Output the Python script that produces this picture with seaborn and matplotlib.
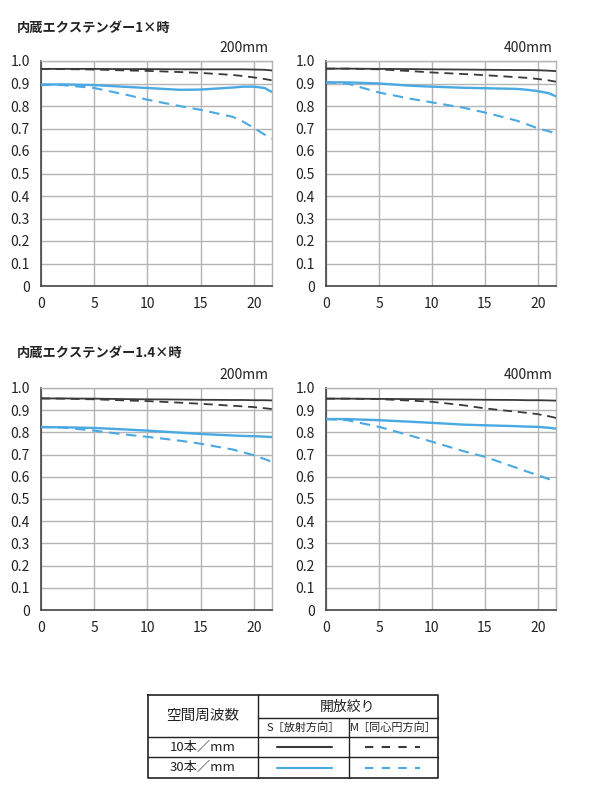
import numpy as np
import pandas as pd
import matplotlib
matplotlib.use("Agg")
import matplotlib.pyplot as plt
import seaborn as sns

# ---------------------------------------------------------------
# Veri (grafikten okunan MTF değerleri)
# ---------------------------------------------------------------
x_pts = [0, 2, 5, 8, 10, 13, 15, 18, 19, 20, 21, 21.7]

# 1x, 200mm
p1_10s = [0.965, 0.965, 0.965, 0.964, 0.964, 0.963, 0.963, 0.963, 0.963, 0.962, 0.961, 0.958]
p1_10m = [0.965, 0.964, 0.962, 0.958, 0.956, 0.951, 0.947, 0.938, 0.933, 0.927, 0.920, 0.914]
p1_30s = [0.895, 0.896, 0.893, 0.885, 0.880, 0.872, 0.873, 0.882, 0.886, 0.886, 0.880, 0.862]
p1_30m = [0.895, 0.893, 0.880, 0.850, 0.828, 0.800, 0.783, 0.752, 0.730, 0.702, 0.673, 0.655]

# 1x, 400mm
p2_10s = [0.966, 0.966, 0.965, 0.964, 0.963, 0.962, 0.961, 0.960, 0.960, 0.959, 0.957, 0.955]
p2_10m = [0.966, 0.966, 0.963, 0.955, 0.949, 0.942, 0.937, 0.928, 0.925, 0.920, 0.914, 0.908]
p2_30s = [0.905, 0.905, 0.900, 0.890, 0.886, 0.881, 0.879, 0.876, 0.872, 0.866, 0.857, 0.843]
p2_30m = [0.905, 0.900, 0.860, 0.832, 0.816, 0.792, 0.771, 0.735, 0.718, 0.700, 0.688, 0.678]

# 1.4x, 200mm
p3_10s = [0.953, 0.953, 0.952, 0.950, 0.949, 0.948, 0.947, 0.946, 0.946, 0.945, 0.945, 0.944]
p3_10m = [0.953, 0.952, 0.949, 0.944, 0.941, 0.934, 0.929, 0.920, 0.917, 0.914, 0.909, 0.905]
p3_30s = [0.824, 0.823, 0.820, 0.813, 0.808, 0.799, 0.793, 0.786, 0.784, 0.783, 0.781, 0.779]
p3_30m = [0.824, 0.822, 0.808, 0.790, 0.780, 0.763, 0.749, 0.723, 0.710, 0.697, 0.680, 0.667]

# 1.4x, 400mm
p4_10s = [0.952, 0.952, 0.951, 0.950, 0.949, 0.948, 0.947, 0.946, 0.945, 0.945, 0.944, 0.943]
p4_10m = [0.952, 0.952, 0.950, 0.943, 0.938, 0.922, 0.908, 0.893, 0.888, 0.882, 0.873, 0.865]
p4_30s = [0.860, 0.860, 0.855, 0.848, 0.843, 0.835, 0.832, 0.828, 0.826, 0.825, 0.821, 0.817]
p4_30m = [0.860, 0.855, 0.825, 0.785, 0.758, 0.715, 0.690, 0.640, 0.623, 0.607, 0.590, 0.577]

panel_titles = ["200mm", "400mm", "200mm", "400mm"]
section_titles = ["内蔵エクステンダー1×時", "内蔵エクステンダー1.4×時"]
series_names = ["10S", "10M", "30S", "30M"]
panel_data = [
    [p1_10s, p1_10m, p1_30s, p1_30m],
    [p2_10s, p2_10m, p2_30s, p2_30m],
    [p3_10s, p3_10m, p3_30s, p3_30m],
    [p4_10s, p4_10m, p4_30s, p4_30m],
]
y_ticks = [0, 0.1, 0.2, 0.3, 0.4, 0.5, 0.6, 0.7, 0.8, 0.9, 1.0]
y_tick_labels = ["0", "0.1", "0.2", "0.3", "0.4", "0.5", "0.6", "0.7", "0.8", "0.9", "1.0"]
x_ticks = [0, 5, 10, 15, 20]

# ---------------------------------------------------------------
# Stil
# ---------------------------------------------------------------
sns.set_style("white")
plt.rcParams['font.family'] = ['Noto Sans CJK JP', 'DejaVu Sans']

BLACK = "#3a3a3a"
BLUE = "#4aa8e2"
GRID = "#b4b4b4"
palette = {"10S": BLACK, "10M": BLACK, "30S": BLUE, "30M": BLUE}
widths = {"10S": 1.3, "10M": 1.3, "30S": 1.7, "30M": 1.5}
DASH = (5, 3.2)

W, H = 590, 800
fig = plt.figure(figsize=(W / 100, H / 100), dpi=100)


def px_axes(left, top, right, bottom):
    return fig.add_axes([left / W, 1 - bottom / H, (right - left) / W, (bottom - top) / H])


rects = [(41, 61, 272, 286), (326, 61, 556, 286),
         (41, 388, 272, 610), (326, 388, 556, 610)]

for i, (rect, data) in enumerate(zip(rects, panel_data)):
    ax = px_axes(*rect)
    rows = []
    for name, vals in zip(series_names, data):
        for xv, yv in zip(x_pts, vals):
            rows.append({"x": xv, "y": yv, "s": name})
    df = pd.DataFrame(rows)
    for name in series_names:
        sub = df[df["s"] == name]
        sns.lineplot(data=sub, x="x", y="y", ax=ax, color=palette[name],
                     lw=widths[name], legend=False, zorder=3)
        if name.endswith("M"):
            ax.lines[-1].set_dashes(DASH)
    ax.set_xlim(0, 21.7)
    ax.set_ylim(0, 1.0)
    ax.set_xticks(x_ticks)
    ax.set_yticks(y_ticks)
    ax.set_yticklabels(y_tick_labels)
    ax.set_xlabel("")
    ax.set_ylabel("")
    ax.grid(True, color=GRID, lw=1.0, zorder=0)
    ax.tick_params(length=0, labelsize=10, pad=8, colors="#222222")
    for side in ["top", "right"]:
        ax.spines[side].set_color(GRID)
        ax.spines[side].set_linewidth(1.0)
    for side in ["left", "bottom"]:
        ax.spines[side].set_color("#444444")
        ax.spines[side].set_linewidth(1.2)
    ax.text(0.985, 1.025, panel_titles[i], transform=ax.transAxes,
            ha="right", va="bottom", fontsize=10, color="#222222")

fig.text(17 / W, 1 - 28 / H, section_titles[0], ha="left", va="center",
         fontsize=9.5, fontweight="bold", color="#222222")
fig.text(17 / W, 1 - 353 / H, section_titles[1], ha="left", va="center",
         fontsize=9.5, fontweight="bold", color="#222222")

# ---------------------------------------------------------------
# Açıklama tablosu
# ---------------------------------------------------------------
tx = fig.add_axes([0, 0, 1, 1])
tx.set_xlim(0, W)
tx.set_ylim(H, 0)
tx.axis("off")

L, R, T, B = 148, 438, 695, 778
c1, c2 = 258, 349
r1, r2, r3 = 718, 737, 757
lc = "#222222"
tx.plot([L, R, R, L, L], [T, T, B, B, T], color=lc, lw=1.2)
tx.plot([c1, c1], [T, B], color=lc, lw=1.0)
tx.plot([c2, c2], [r1, B], color=lc, lw=1.0)
tx.plot([c1, R], [r1, r1], color=lc, lw=1.0)
tx.plot([L, R], [r2, r2], color=lc, lw=1.0)
tx.plot([L, R], [r3, r3], color=lc, lw=1.0)

tx.text((L + c1) / 2, (T + r2) / 2, "空間周波数", ha="center", va="center", fontsize=10.5, color=lc)
tx.text((c1 + R) / 2, (T + r1) / 2, "開放絞り", ha="center", va="center", fontsize=10, color=lc)
tx.text((c1 + c2) / 2, (r1 + r2) / 2, "S［放射方向］", ha="center", va="center", fontsize=8, color=lc)
tx.text((c2 + R) / 2, (r1 + r2) / 2, "M［同心円方向］", ha="center", va="center", fontsize=8, color=lc)
tx.text((L + c1) / 2, (r2 + r3) / 2, "10本／mm", ha="center", va="center", fontsize=9.5, color=lc)
tx.text((L + c1) / 2, (r3 + B) / 2, "30本／mm", ha="center", va="center", fontsize=9.5, color=lc)

for yy, col in [((r2 + r3) / 2, BLACK), ((r3 + B) / 2, BLUE)]:
    tx.plot([277, 332], [yy, yy], color=col, lw=1.5)
    tx.plot([365, 420], [yy, yy], color=col, lw=1.5, dashes=(4, 4))

fig.savefig("out.png", dpi=100, facecolor="white")
